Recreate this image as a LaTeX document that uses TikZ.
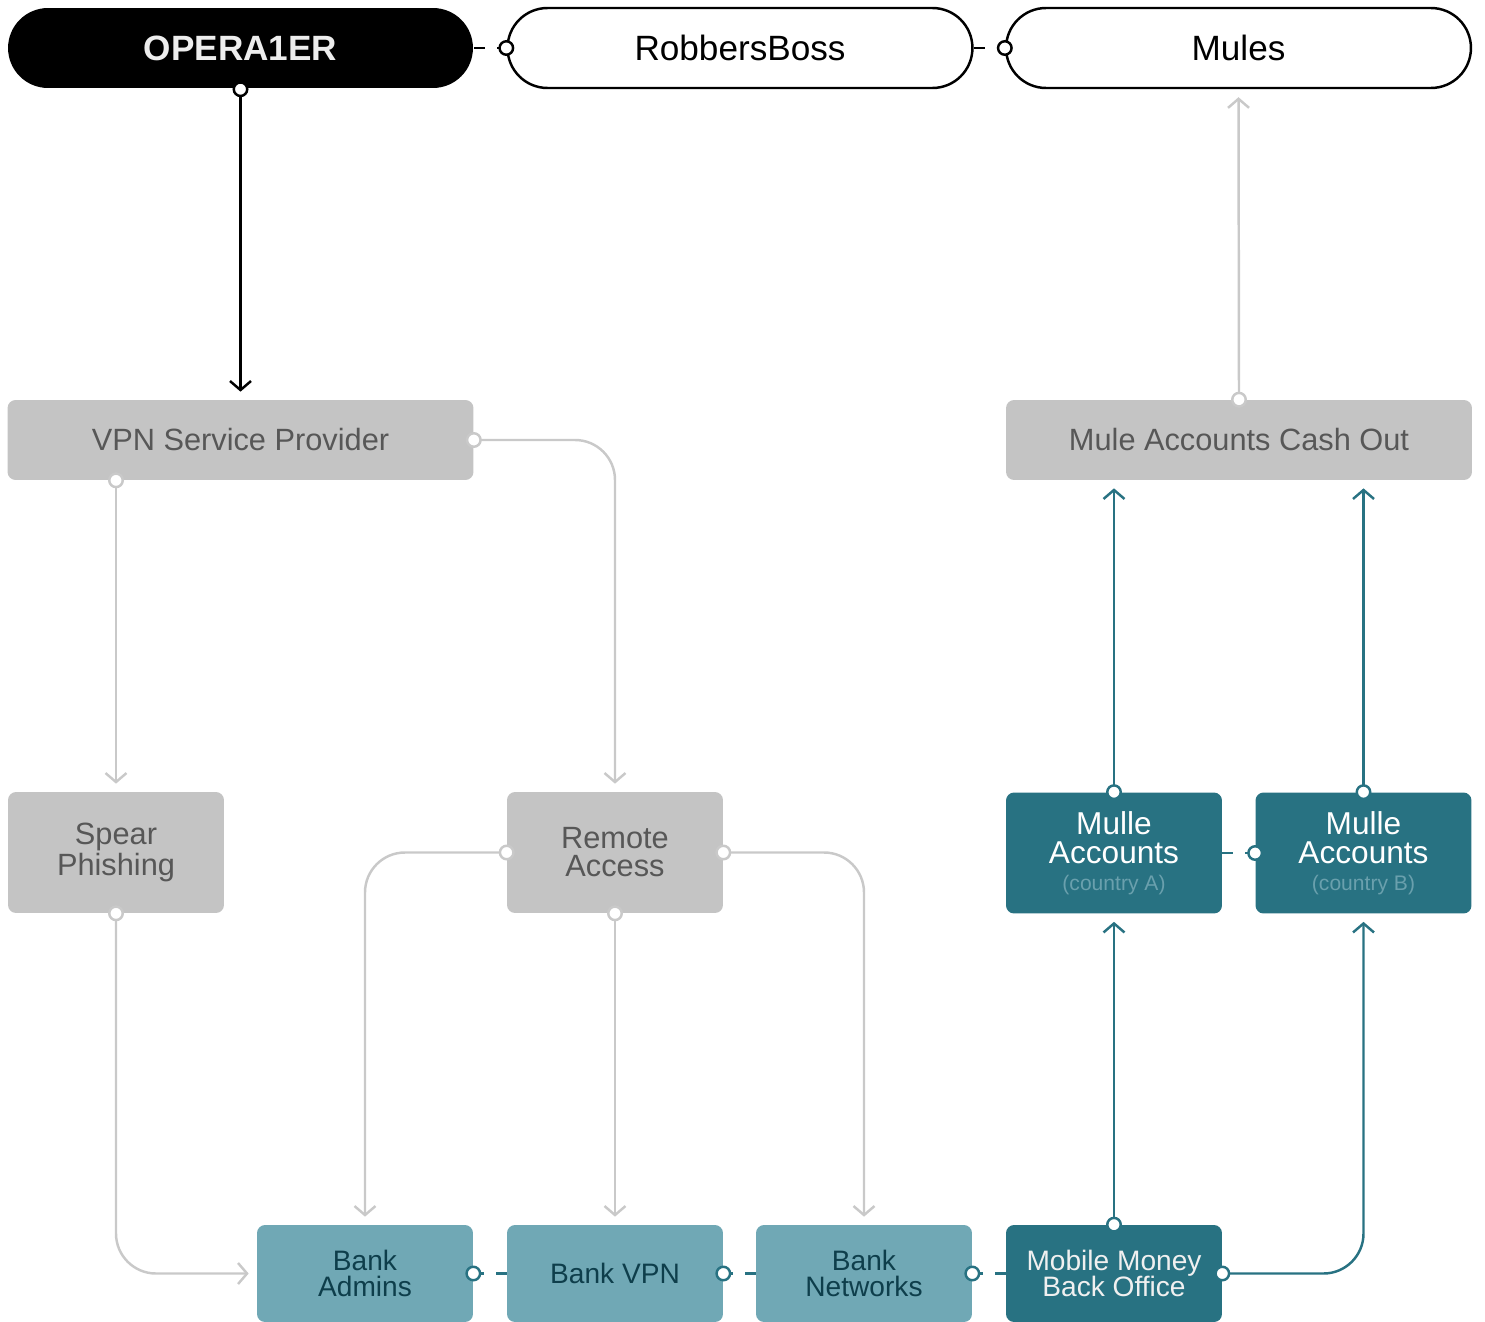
\documentclass[tikz,border=0pt]{standalone}
\usepackage{fontspec}
\setmainfont{Liberation Sans}
\usetikzlibrary{arrows.meta}
\definecolor{boxgray}{HTML}{C4C4C4}
\definecolor{txtgray}{HTML}{575757}
\definecolor{linegray}{HTML}{C9C9C9}
\definecolor{lteal}{HTML}{70A8B5}
\definecolor{dteal}{HTML}{287282}
\definecolor{tealtxt}{HTML}{0E3E4B}
\definecolor{subteal}{HTML}{6AA0AD}
\tikzset{
  pill/.style={rounded corners=0.8cm, minimum width=9.3cm, minimum height=1.6cm, line width=1.4pt, font=\fontsize{20}{24}\selectfont},
  widebox/.style={fill=boxgray, text=txtgray, rounded corners=0.16cm, minimum width=9.32cm, minimum height=1.6cm, font=\fontsize{17.5}{20}\selectfont},
  graybox/.style={fill=boxgray, text=txtgray, rounded corners=0.16cm, minimum width=4.32cm, minimum height=2.42cm, align=center, font=\fontsize{17.5}{16}\selectfont},
  mulebox/.style={fill=dteal, text=white, rounded corners=0.16cm, minimum width=4.32cm, minimum height=2.42cm, align=center, font=\fontsize{18}{16.5}\selectfont},
  bankbox/.style={fill=lteal, text=tealtxt, rounded corners=0.16cm, minimum width=4.32cm, minimum height=1.94cm, align=center, font=\fontsize{16}{15}\selectfont},
  dot/.style={circle, draw, fill=white, inner sep=0pt, minimum size=0.27cm, line width=1.4pt},
  arr/.style={-{Straight Barb[length=0.18cm,width=0.42cm]}, shorten >=0.16cm, line width=1.4pt},
  link/.style={line width=1.4pt, dash pattern=on 0.22cm off 0.24cm}
}
\begin{document}
\begin{tikzpicture}[x=0.02cm,y=-0.02cm]
  \useasboundingbox (0,0) rectangle (1485,1322);
  % actors
  \node[pill, fill=black, text=white!93!black, font=\fontsize{20}{24}\bfseries] (op) at (240.5,48) {OPERA1ER};
  \node[pill, draw=black, fill=white] (rb) at (740,48) {RobbersBoss};
  \node[pill, draw=black, fill=white] (mu) at (1238.5,48) {Mules};

  \node[widebox] (vpn) at (240.5,440) {VPN Service Provider};
  \node[widebox] (co) at (1239,440) {Mule Accounts Cash Out};

  \node[graybox] (sp) at (116,852.5) {Spear\\Phishing};
  \node[graybox] (ra) at (615,852.5) {Remote\\Access};
  \node[mulebox] (ma) at (1114,853) {Mulle\\Accounts\\[-1pt]{\fontsize{12}{14}\selectfont\color{subteal}(country A)}};
  \node[mulebox] (mb) at (1363.5,853) {Mulle\\Accounts\\[-1pt]{\fontsize{12}{14}\selectfont\color{subteal}(country B)}};

  \node[bankbox] (ba) at (365,1273.5) {Bank\\Admins};
  \node[bankbox] (bv) at (615,1273.5) {Bank VPN};
  \node[bankbox] (bn) at (864,1273.5) {Bank\\Networks};
  \node[bankbox, fill=dteal, text=white!94!black] (mm) at (1114,1273.5) {Mobile Money\\Back Office};

  % top row
  \draw[arr] (op.south) -- (vpn.north);
  \draw[link] (op.east) -- (rb.west);
  \draw[link] (rb.east) -- (mu.west);

  % gray paths
  \draw[arr, linegray] (co.north) -- (mu.south);
  \draw[arr, linegray] (vpn.south -| sp.north) -- (sp.north);
  \draw[arr, linegray, rounded corners=0.8cm] (vpn.east) -| (ra.north);
  \draw[arr, linegray, rounded corners=0.8cm] (sp.south) |- (ba.west);
  \draw[arr, linegray, rounded corners=0.8cm] (ra.west) -| (ba.north);
  \draw[arr, linegray] (ra.south) -- (bv.north);
  \draw[arr, linegray, rounded corners=0.8cm] (ra.east) -| (bn.north);

  % teal paths
  \draw[link, dteal] (bv.west) -- (ba.east);
  \draw[link, dteal] (bn.west) -- (bv.east);
  \draw[link, dteal] (mm.west) -- (bn.east);
  \draw[link, dteal] (ma.east) -- (mb.west);
  \draw[arr, dteal] (mm.north) -- (ma.south);
  \draw[arr, dteal, rounded corners=0.8cm] (mm.east) -| (mb.south);
  \draw[arr, dteal] (ma.north) -- (co.south -| ma.north);
  \draw[arr, dteal] (mb.north) -- (co.south -| mb.north);

  % end dots
  \node[dot, draw=black] at (op.south) {};
  \node[dot, draw=black] at (rb.west) {};
  \node[dot, draw=black] at (mu.west) {};
  \node[dot, draw=linegray] at (co.north) {};
  \node[dot, draw=linegray] at (vpn.south -| sp.north) {};
  \node[dot, draw=linegray] at (vpn.east) {};
  \node[dot, draw=linegray] at (sp.south) {};
  \node[dot, draw=linegray] at (ra.west) {};
  \node[dot, draw=linegray] at (ra.south) {};
  \node[dot, draw=linegray] at (ra.east) {};
  \node[dot, draw=dteal] at (ba.east) {};
  \node[dot, draw=dteal] at (bv.east) {};
  \node[dot, draw=dteal] at (bn.east) {};
  \node[dot, draw=dteal] at (mb.west) {};
  \node[dot, draw=dteal] at (mm.north) {};
  \node[dot, draw=dteal] at (mm.east) {};
  \node[dot, draw=dteal] at (ma.north) {};
  \node[dot, draw=dteal] at (mb.north) {};
\end{tikzpicture}
\end{document}
